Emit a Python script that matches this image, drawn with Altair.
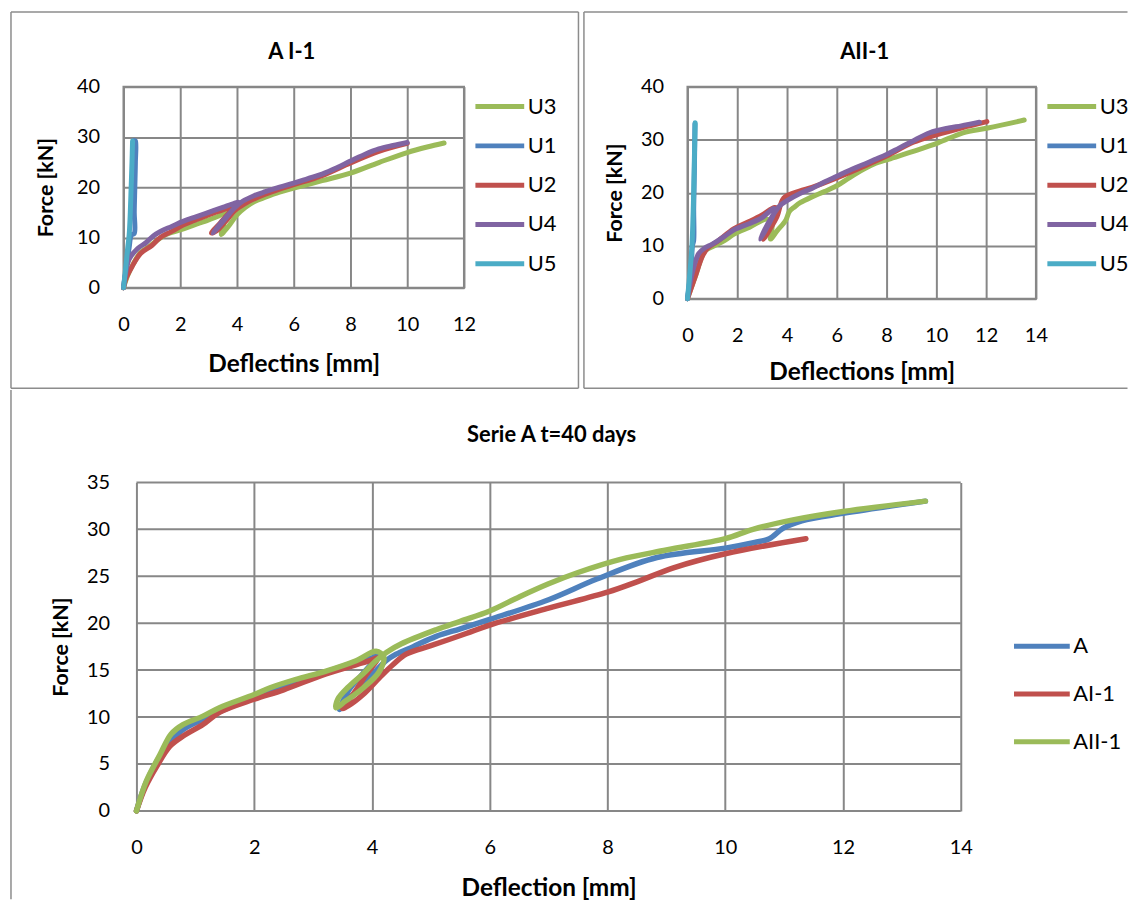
import altair as alt
import pandas as pd

FONT = "Lato"
GRID = "#878787"
BORDER = "#8c8c8c"

GREEN = "#9BBB59"
BLUE = "#4F81BD"
RED = "#C0504D"
PURPLE = "#8064A2"
CYAN = "#4BACC6"

# ---------------- Panel "A I-1" ----------------
a1_u3_x = [0, 0.15, 0.35, 0.6, 0.9, 1.2, 1.5, 2.0, 2.5, 3.0, 3.4, 3.6, 3.55, 3.45, 3.55, 3.75, 4.0, 4.3, 4.6, 5.0, 5.5, 6.0, 7.0, 8.0, 9.0, 10.0, 10.7, 11.3]
a1_u3_f = [0, 2.5, 4.8, 7.0, 8.2, 9.5, 10.6, 11.5, 12.5, 13.5, 14.4, 15.2, 13.0, 10.6, 11.2, 12.6, 14.5, 16.0, 17.1, 18.0, 19.0, 19.8, 21.3, 22.8, 24.9, 26.9, 28.0, 28.8]
a1_u1_x = [0, 0.1, 0.2, 0.28, 0.38, 0.38, 0.4, 0.42, 0.42, 0.38]
a1_u1_f = [0, 4, 8, 10.5, 10.8, 15, 20, 25, 29.2, 29.3]
a1_u2_x = [0, 0.1, 0.3, 0.6, 1.0, 1.3, 1.7, 2.1, 2.5, 3.0, 3.5, 3.9, 4.0, 3.7, 3.4, 3.1, 3.3, 3.6, 3.95, 4.3, 4.7, 5.0, 5.5, 6.0, 7.0, 8.0, 9.0, 10.0]
a1_u2_f = [0, 2.0, 4.2, 6.8, 8.4, 10.0, 11.2, 12.5, 13.4, 14.5, 15.5, 16.3, 16.5, 14.8, 12.8, 10.9, 11.4, 13.2, 15.5, 16.8, 17.9, 18.6, 19.6, 20.5, 22.3, 24.8, 27.1, 28.7]
a1_u4_x = [0, 0.08, 0.2, 0.5, 0.8, 1.05, 1.3, 1.7, 2.1, 2.5, 3.0, 3.5, 3.9, 4.05, 3.8, 3.45, 3.15, 3.3, 3.6, 3.9, 4.2, 4.6, 5.0, 5.5, 6.0, 6.5, 7.0, 7.5, 8.0, 8.5, 9.0, 9.5, 10.0]
a1_u4_f = [0, 3.0, 5.7, 7.8, 9.0, 10.3, 11.2, 12.2, 13.2, 14.0, 15.0, 16.0, 16.8, 17.0, 15.2, 13.0, 10.9, 11.8, 13.8, 15.8, 17.2, 18.3, 19.1, 20.0, 20.8, 21.7, 22.6, 23.8, 25.2, 26.5, 27.6, 28.3, 28.9]
a1_u5_x = [0, 0.08, 0.15, 0.2, 0.24, 0.27, 0.3, 0.32]
a1_u5_f = [0, 4, 8, 10.5, 15, 20, 25, 29.2]

# ---------------- Panel "AII-1" ----------------
a2_u3_x = [0, 0.3, 0.7, 1.0, 1.5, 1.87, 2.5, 3.2, 3.4, 3.33, 3.6, 3.95, 4.1, 4.3, 4.53, 5.0, 5.5, 6.0, 6.5, 7.07, 7.5, 8.07, 9.07, 10.07, 11.07, 12.07, 13.53]
a2_u3_f = [0, 4, 9, 9.8, 11, 12.2, 13.5, 15.0, 14.0, 11.25, 12.8, 14.8, 16.5, 17.3, 18.1, 19.2, 20.2, 21.3, 22.8, 24.4, 25.4, 26.3, 27.8, 29.4, 31.3, 32.2, 33.7]
a2_u1_x = [0, 0.15, 0.2, 0.25, 0.25, 0.28, 0.3]
a2_u1_f = [0, 6, 10, 11, 17, 25, 33]
a2_u2_x = [0, 0.3, 0.6, 0.8, 1.2, 1.87, 2.5, 3.0, 3.5, 3.6, 3.3, 3.05, 3.3, 3.6, 3.87, 4.5, 5.0, 6.0, 7.0, 8.0, 9.07, 10.0, 11.0, 12.03]
a2_u2_f = [0, 4, 8, 9.5, 10.8, 13.2, 14.6, 15.8, 17.2, 17.0, 14.0, 11.2, 13.0, 15.5, 19.0, 20.3, 21.0, 22.8, 24.8, 26.9, 29.5, 30.9, 32.2, 33.4]
a2_u4_x = [0, 0.2, 0.45, 0.7, 1.0, 1.5, 1.87, 2.5, 3.0, 3.47, 3.5, 3.2, 2.93, 3.1, 3.4, 3.7, 4.0, 4.5, 5.0, 5.5, 6.0, 6.5, 7.07, 7.5, 8.0, 8.5, 9.0, 9.73, 10.5, 11.0, 11.73]
a2_u4_f = [0, 5, 8.5, 9.6, 10.3, 11.8, 13.0, 14.2, 15.3, 17.0, 16.5, 13.5, 11.25, 13.0, 15.5, 17.5, 18.5, 19.8, 20.8, 22.0, 23.1, 24.2, 25.3, 26.2, 27.2, 28.4, 29.6, 31.3, 32.2, 32.6, 33.3]
a2_u5_x = [0, 0.1, 0.18, 0.22, 0.25, 0.28, 0.31]
a2_u5_f = [0, 5, 10, 15, 20, 27, 33.2]

# ---------------- Panel "Serie A  t=40 days" ----------------
s_a_x = [0, 0.15, 0.35, 0.57, 0.8, 1.13, 1.5, 2.0, 2.5, 3.22, 3.7, 4.0, 4.1, 3.9, 3.6, 3.45, 3.55, 3.75, 3.96, 4.24, 4.41, 4.7, 5.09, 5.5, 6.0, 7.0, 7.82, 8.84, 10.0, 10.5, 10.75, 10.98, 11.3, 12.0, 13.4]
s_a_f = [0, 2.8, 5.3, 7.4, 8.7, 9.75, 10.8, 12.2, 13.2, 14.8, 15.8, 16.3, 16.5, 15.0, 12.8, 10.8, 11.6, 12.8, 14.2, 16.0, 16.7, 17.5, 18.6, 19.4, 20.4, 22.5, 24.7, 27.0, 28.0, 28.6, 29.0, 30.1, 30.9, 31.7, 33.0]
s_ai1_x = [0, 0.15, 0.35, 0.57, 0.8, 1.13, 1.41, 2.0, 2.5, 3.22, 3.96, 4.1, 3.9, 3.7, 3.5, 3.6, 3.85, 4.13, 4.36, 4.58, 5.0, 5.6, 6.0, 7.0, 8.0, 8.5, 9.12, 10.0, 11.37]
s_ai1_f = [0, 2.5, 4.8, 6.9, 8.0, 9.2, 10.5, 11.9, 12.9, 14.6, 16.0, 16.3, 14.5, 12.6, 10.9, 11.2, 12.4, 14.2, 15.6, 16.7, 17.6, 18.9, 19.8, 21.6, 23.3, 24.4, 25.9, 27.4, 29.0]
s_aii1_x = [0, 0.17, 0.4, 0.59, 0.79, 1.13, 1.41, 2.0, 2.26, 2.7, 3.22, 3.73, 4.07, 4.2, 4.12, 3.85, 3.55, 3.39, 3.42, 3.6, 3.85, 4.05, 4.25, 4.5, 5.09, 5.5, 6.0, 6.5, 7.0, 7.5, 8.22, 9.0, 10.0, 10.47, 11.15, 12.0, 13.4]
s_aii1_f = [0, 3.2, 6.0, 8.2, 9.2, 10.1, 11.0, 12.4, 13.1, 14.0, 14.9, 16.0, 17.0, 16.4, 14.8, 13.1, 11.7, 11.0, 11.9, 13.2, 14.6, 15.9, 16.9, 17.8, 19.3, 20.2, 21.3, 22.8, 24.2, 25.4, 26.8, 27.8, 29.0, 30.0, 31.0, 31.9, 33.0]

U_NAMES = ["U3", "U1", "U2", "U4", "U5"]
U_COLORS = [GREEN, BLUE, RED, PURPLE, CYAN]
S_NAMES = ["A", "AI-1", "AII-1"]
S_COLORS = [BLUE, RED, GREEN]

X_TICKS_12 = [0, 2, 4, 6, 8, 10, 12]
X_TICKS_14 = [0, 2, 4, 6, 8, 10, 12, 14]
Y_TICKS_40 = [0, 10, 20, 30, 40]
Y_TICKS_35 = [0, 5, 10, 15, 20, 25, 30, 35]

TICK_FS = 20
XTITLE_FS = 24.5
YTITLE_FS = 21.5
LEG_FS = 22
HEAD_FS = 22


def df_of(name, xs, fs):
    return pd.DataFrame({"series": name, "x": xs, "F": fs, "i": list(range(len(xs)))})


def border(x1, y1, x2, y2, opacity=1, cap="butt"):
    return alt.Chart(alt.Data(values=[{"k": 1}])).mark_rule(
        color=BORDER, strokeWidth=1.5, opacity=opacity, strokeCap=cap
    ).encode(x=alt.value(x1), x2=alt.value(x2), y=alt.value(y1), y2=alt.value(y2))


def heading(text, cx, cy):
    return alt.Chart(alt.Data(values=[{"t": text}])).mark_text(
        font=FONT, fontSize=HEAD_FS, fontWeight="bold", color="black",
        align="center", baseline="middle"
    ).encode(text="t:N", x=alt.value(cx), y=alt.value(cy))


def xaxis(vals, title, lp, tp):
    return alt.Axis(values=vals, title=title, labelPadding=lp, titlePadding=tp,
                    titleFontSize=XTITLE_FS, format="d")


def yaxis(vals, title, lp, tp, grid=True):
    return alt.Axis(values=vals, title=title, labelPadding=lp, titlePadding=tp,
                    titleFontSize=YTITLE_FS, format="d", grid=grid)


def line_layers(series, names, colors, xscale, xax, yscale, yax, legend, sw):
    layers = []
    for name, xs, fs in series:
        layers.append(
            alt.Chart(df_of(name, xs, fs)).mark_line(
                strokeWidth=sw, strokeCap="round", strokeJoin="round",
                interpolate="catmull-rom"
            ).encode(
                x=alt.X("x:Q", scale=xscale, axis=xax),
                y=alt.Y("F:Q", scale=yscale, axis=yax),
                color=alt.Color("series:N", scale=alt.Scale(domain=names, range=colors),
                                legend=legend),
                order=alt.Order("i:Q"),
            )
        )
    return layers


def u_legend(lx, ly):
    return alt.Legend(orient="none", legendX=lx, legendY=ly, title=None,
                      symbolType="stroke", symbolSize=2401, symbolStrokeWidth=5,
                      rowPadding=1.5, labelOffset=1, padding=0,
                      labelFontSize=LEG_FS, labelFont=FONT, labelColor="black")


# ---- top-left ----
tl_series = [("U3", a1_u3_x, a1_u3_f), ("U1", a1_u1_x, a1_u1_f), ("U2", a1_u2_x, a1_u2_f),
             ("U4", a1_u4_x, a1_u4_f), ("U5", a1_u5_x, a1_u5_f)]
tl_lines = line_layers(
    tl_series, U_NAMES, U_COLORS,
    alt.Scale(domain=[0, 12], nice=False, zero=False),
    xaxis(X_TICKS_12, "Deflectins [mm]", 27, 18),
    alt.Scale(domain=[0, 40], nice=False, zero=False),
    yaxis(Y_TICKS_40, "Force [kN]", 24, 19),
    u_legend(351, -7), 5)
tl_borders = [border(-113, -75, 457, -75), border(-113, 303, 457, 303),
              border(-113, -75, -113, 303), border(457, -75, 457, 303)]
tl = alt.layer(*tl_borders, heading("A I-1", 169, -35), *tl_lines).properties(width=342, height=202)

# ---- top-right ----
tr_series = [("U3", a2_u3_x, a2_u3_f), ("U1", a2_u1_x, a2_u1_f), ("U2", a2_u2_x, a2_u2_f),
             ("U4", a2_u4_x, a2_u4_f), ("U5", a2_u5_x, a2_u5_f)]
tr_lines = line_layers(
    tr_series, U_NAMES, U_COLORS,
    alt.Scale(domain=[0, 14], nice=False, zero=False),
    xaxis(X_TICKS_14, "Deflections [mm]", 27, 15),
    alt.Scale(domain=[0, 40], nice=False, zero=False),
    yaxis(Y_TICKS_40, "Force [kN]", 24, 14),
    u_legend(359, -7), 5)
tr_borders = [border(-104, -75, 442, -75), border(-104, 303, 442, 303),
              border(-104, -75, -104, 303)]
tr = alt.layer(*tr_borders, heading("AII-1", 178, -35), *tr_lines).properties(width=350, height=213)

# ---- bottom (its group origin is shared with the top-left panel; plot starts 13 px further right) ----
B_X0, B_X1 = 13, 841
b_series = [("A", s_a_x, s_a_f), ("AI-1", s_ai1_x, s_ai1_f), ("AII-1", s_aii1_x, s_aii1_f)]
b_legend = alt.Legend(orient="none", legendX=892, legendY=134, title=None,
                      symbolType="stroke", symbolSize=3136, symbolStrokeWidth=5,
                      rowPadding=6, labelOffset=1, padding=0,
                      labelFontSize=LEG_FS, labelFont=FONT, labelColor="black")
b_xscale = alt.Scale(domain=[0, 14], range=[B_X0, B_X1], nice=False, zero=False)
b_yscale = alt.Scale(domain=[0, 35], nice=False, zero=False)
b_yaxis = yaxis(Y_TICKS_35, "Force [kN]", 14, 14, grid=False)
b_lines = line_layers(
    b_series, S_NAMES, S_COLORS, b_xscale,
    xaxis(X_TICKS_14, "Deflection [mm]", 27, 19),
    b_yscale, b_yaxis, b_legend, 5.5)
b_grid = alt.Chart(pd.DataFrame({"F": Y_TICKS_35})).mark_rule(color=GRID, strokeWidth=2).encode(
    y=alt.Y("F:Q", scale=b_yscale, axis=b_yaxis), x=alt.value(B_X0), x2=alt.value(B_X1))
# the visible top edge of this panel is the shared bottom edge of the two upper panels
b_borders = [border(-113, -92, -113, 418, cap="square")]
bottom = alt.layer(*b_borders, b_grid, heading("Serie A  t=40 days", 430, -48), *b_lines).properties(
    width=B_X1, height=330, view=alt.ViewBackground(stroke="transparent"))

top = alt.concat(tl, tr, columns=2, align="none", spacing=1.5).resolve_scale(
    color="independent", x="independent", y="independent").resolve_legend(color="independent")
chart = alt.concat(top, bottom, columns=1, align="none", spacing=-2.5).resolve_scale(
    color="independent", x="independent", y="independent"
).resolve_legend(color="independent").properties(padding=0, background="white").configure_view(
    stroke=GRID, strokeWidth=2
).configure_axis(
    domain=False, ticks=False, grid=True, gridColor=GRID, gridWidth=2,
    labelFont=FONT, labelFontSize=TICK_FS, labelColor="black", labelFlush=False,
    titleFont=FONT, titleColor="black", titleFontWeight="bold"
)

chart.save("out.html", embed_options={"renderer": "svg", "actions": False})
